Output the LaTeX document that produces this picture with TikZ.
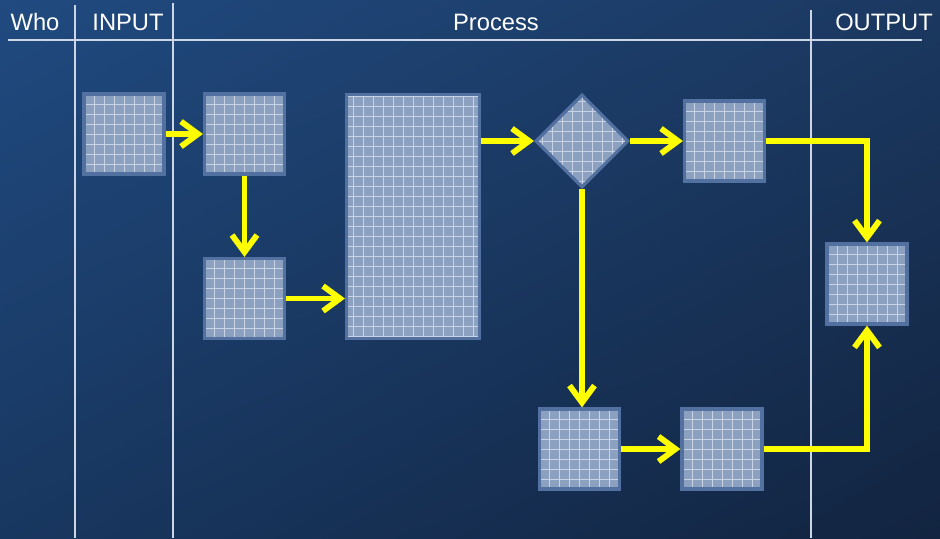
\documentclass[tikz,border=0pt]{standalone}
\usepackage{fontspec}
\setmainfont{Liberation Sans}
\usetikzlibrary{arrows.meta,shapes.geometric,shadings}
\definecolor{bgul}{RGB}{32,74,128}
\definecolor{bgur}{RGB}{27,56,96}
\definecolor{bgll}{RGB}{24,55,96}
\definecolor{bglr}{RGB}{18,36,64}
\definecolor{cellfill}{RGB}{140,160,192}
\definecolor{cellrim}{RGB}{82,112,160}
\definecolor{cellgrid}{RGB}{200,212,230}
\definecolor{lanecol}{RGB}{205,214,228}
\definecolor{arrowcol}{RGB}{255,255,0}
\begin{document}
\begin{tikzpicture}[x=0.02cm, y=-0.02cm,
    cell/.style = {draw=cellrim, line width=1.8pt, fill=cellfill, inner sep=0pt,
      minimum width=1.6cm, minimum height=1.6cm,
      path picture={\draw[cellgrid, line width=0.45pt, step=2mm]
        (path picture bounding box.south west) grid (path picture bounding box.north east);}},
    lane/.style = {lanecol, line width=0.6pt},
    head/.style = {text=white, font=\fontsize{13.5}{16}\selectfont, inner sep=0pt},
    flow/.style = {arrowcol, line width=3.3pt,
      -{Straight Barb[length=3.4mm, width=5mm]}}]
        \useasboundingbox (0,0) rectangle (940,538);
        \shade[upper left=bgul, upper right=bgur, lower left=bgll, lower right=bglr]
            (0,0) rectangle (940,538);
        % swimlanes
        \draw[lane] (8,40) -- (922,40);
        \draw[lane] (75,5) -- (75,538);
        \draw[lane] (173,3) -- (173,538);
        \draw[lane] (811,10) -- (811,538);
        \node[head] (who) at (35,22) {Who};
        \node[head] (input) at (128,22) {INPUT};
        \node[head] (process) at (496,22) {Process};
        \node[head] (output) at (884,22) {OUTPUT};
        % steps
        \node[cell] (a) at (124,134) {};
        \node[cell] (b) at (244.5,134) {};
        \node[cell] (c) at (244.5,298.5) {};
        \node[cell, minimum width=2.66cm, minimum height=4.88cm] (d) at (413,216.5) {};
        \node[cell, diamond, minimum width=1.86cm, minimum height=1.86cm] (dec) at (582,141) {};
        \node[cell] (e) at (724.5,141) {};
        \node[cell] (f) at (867,284) {};
        \node[cell] (g) at (579.5,449) {};
        \node[cell] (h) at (722,449) {};
        % flow
        \draw[flow] (a.east) -- (a.east -| b.west);
        \draw[flow] (b.south) -- (c.north);
        \draw[flow] (c.east) -- (c.east -| d.west);
        \draw[flow] (dec.west -| d.east) -- (dec.west);
        \draw[flow] (dec.east) -- (e.west);
        \draw[flow] (dec.south) -- (dec.south |- g.north);
        \draw[flow] (g.east) -- (h.west);
        \draw[flow] (e.east) -| (f.north);
        \draw[flow] (h.east) -| (f.south);
\end{tikzpicture}
\end{document}
